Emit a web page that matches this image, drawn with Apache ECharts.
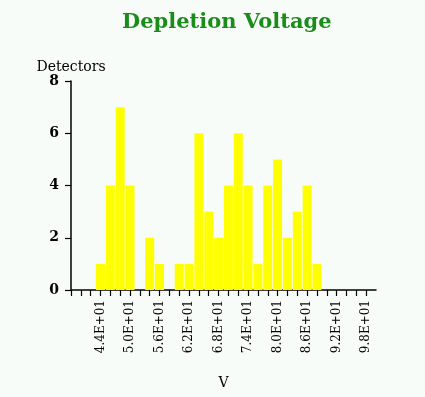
<!DOCTYPE html>
<html>
<head>
<meta charset="utf-8">
<script src="https://cdn.jsdelivr.net/npm/echarts@6/dist/echarts.min.js"></script>
<style>
  html, body { margin: 0; padding: 0; background: #f8fcf8; }
  #chart { width: 425px; height: 397px; }
</style>
</head>
<body>
<div id="chart"></div>
<script>
// Depletion voltage histogram: bin centres (V) and detector counts
const binCentres = [44, 46, 48, 50, 52, 54, 56, 58, 60, 62, 64, 66, 68, 70, 72, 74, 76, 78, 80, 82, 84, 86, 88];
const detectorCounts = [1, 4, 7, 4, 0, 2, 1, 0, 1, 1, 6, 3, 2, 4, 6, 4, 1, 4, 5, 2, 3, 4, 1];
// Labelled voltages on the x axis
const tickLabels = [44, 50, 56, 62, 68, 74, 80, 86, 92, 98];

const serif = '"DejaVu Serif", "Liberation Serif", serif';

function sci(v) {
  const e = Math.floor(Math.log10(v));
  const m = v / Math.pow(10, e);
  return m.toFixed(1) + 'E+' + String(e).padStart(2, '0');
}

const chart = echarts.init(document.getElementById('chart'), null, { renderer: 'canvas' });
chart.setOption({
  backgroundColor: '#f8fcf8',
  animation: false,
  title: {
    text: 'Depletion Voltage',
    left: 117,
    top: 7,
    textStyle: { fontFamily: serif, fontWeight: 'bold', fontSize: 21, color: '#1a8c1a' }
  },
  grid: { left: 71, right: 49, top: 81, bottom: 107 },
  xAxis: {
    type: 'value',
    min: 38,
    max: 100,
    interval: 2,
    name: 'V',
    nameLocation: 'middle',
    nameGap: 86,
    nameTextStyle: { fontFamily: serif, fontSize: 14, color: '#000' },
    axisLine: { lineStyle: { color: '#000', width: 1.5 } },
    axisTick: { length: 6, lineStyle: { color: '#000', width: 1.2 } },
    splitLine: { show: false },
    axisLabel: {
      rotate: 90,
      margin: 10,
      fontFamily: serif,
      fontSize: 12,
      color: '#000',
      showMaxLabel: false,
      formatter: v => tickLabels.includes(v) ? sci(v) : ''
    }
  },
  yAxis: {
    type: 'value',
    min: 0,
    max: 8,
    interval: 2,
    name: 'Detectors',
    nameLocation: 'end',
    nameGap: 7,
    nameTextStyle: { fontFamily: serif, fontSize: 14, color: '#000', align: 'center' },
    axisLine: { show: true, lineStyle: { color: '#000', width: 1.5 } },
    axisTick: { show: true, length: 6, lineStyle: { color: '#000', width: 1.2 } },
    splitLine: { show: false },
    axisLabel: { fontFamily: serif, fontSize: 14, fontWeight: 'bold', color: '#000', margin: 12 }
  },
  series: [{
    type: 'bar',
    barWidth: 9,
    itemStyle: { color: '#ffff00' },
    data: binCentres.map((v, i) => [v, detectorCounts[i]])
  }]
});
</script>
</body>
</html>
